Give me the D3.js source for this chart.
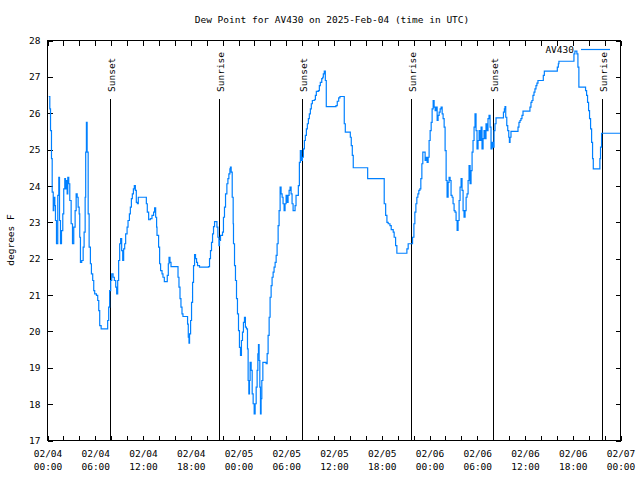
<!DOCTYPE html>
<html><head><meta charset="utf-8">
<script src="https://cdn.jsdelivr.net/npm/d3@7"></script>
<style>
html,body{margin:0;padding:0;background:#fff;}
text{font-family:"DejaVu Sans Mono","Liberation Mono",monospace;font-size:9.5px;fill:#000;}
</style></head><body>
<svg id="c" width="640" height="480"></svg>
<script>
// ---- data (hour offset from 2025-02-04 00:00 UTC, dew point °F) ----
const feb04 = [[0.16,26.46],[0.29,26.12],[0.38,25.52],[0.50,24.75],[0.59,23.83],[0.72,23.32],[0.79,23.69],[0.92,23.46],[1.00,23.05],[1.13,22.41],[1.29,23.74],[1.42,24.24],[1.51,23.05],[1.63,22.41],[1.76,22.77],[1.92,23.23],[2.04,23.92],[2.17,24.20],[2.26,23.92],[2.38,24.15],[2.47,23.78],[2.55,24.24],[2.67,24.06],[2.80,23.60],[2.97,22.96],[3.14,22.41],[3.30,22.87],[3.47,23.32],[3.60,23.78],[3.73,23.69],[3.85,23.42],[3.98,23.23],[4.05,22.59],[4.14,21.90],[4.30,21.95],[4.48,22.32],[4.60,22.73],[4.73,23.69],[4.80,24.93],[4.89,25.75],[4.98,24.93],[5.11,23.23],[5.23,22.32],[5.39,21.86],[5.52,21.58],[5.68,21.40],[5.81,21.12],[5.93,21.03],[6.15,20.99],[6.31,20.85],[6.44,20.57],[6.56,20.16],[6.74,20.07],[7.49,20.07],[7.56,20.30],[7.69,20.67],[7.81,21.12],[7.94,21.40],[8.07,21.58],[8.24,21.49],[8.40,21.40],[8.57,21.22],[8.69,21.03],[8.82,21.40],[8.94,21.95],[9.07,22.41],[9.19,22.55],[9.32,22.22],[9.45,21.95],[9.57,22.27],[9.70,22.41],[9.82,22.68],[10.00,22.87],[10.12,23.05],[10.29,23.23],[10.41,23.42],[10.54,23.65],[10.66,23.78],[10.79,23.92],[10.91,24.01],[11.04,23.88],[11.16,23.55],[11.29,23.51],[11.41,23.69],[12.29,23.69],[12.42,23.51],[12.54,23.28],[12.71,23.07],[12.92,23.10],[13.13,23.19],[13.33,23.28],[13.46,23.40],[13.59,23.14],[13.71,22.87],[13.76,22.64],[13.96,22.32],[14.09,21.86],[14.21,21.67],[14.39,21.58],[14.51,21.49],[14.68,21.37],[14.93,21.37],[15.05,21.54],[15.18,21.86],[15.27,22.04],[15.39,21.90],[15.52,21.78],[16.27,21.78],[16.40,21.49],[16.52,21.22],[16.65,20.90],[16.77,20.67],[16.90,20.48],[17.02,20.41],[17.52,20.41],[17.60,20.20],[17.69,19.84],[17.78,19.68],[17.85,19.93],[17.98,20.30],[18.10,20.80],[18.23,21.35],[18.35,21.81],[18.48,22.11],[18.60,22.00],[18.73,21.90],[18.85,21.81],[19.10,21.77],[20.23,21.78],[20.36,22.00],[20.48,22.22],[20.61,22.45],[20.74,22.68],[20.86,22.88],[20.99,23.02],[21.16,23.02],[21.29,22.87],[21.41,22.59],[21.54,22.36],[21.61,22.50],[21.74,22.64],[21.99,22.73],[22.11,23.14],[22.24,23.42],[22.37,23.78],[22.54,24.06],[22.67,24.20],[22.79,24.33],[22.92,24.47],[22.99,24.52],[23.08,24.38],[23.21,23.69],[23.33,22.96],[23.37,22.41],[23.50,21.81],[23.62,21.40],[23.75,20.90],[23.87,20.48]];
const feb05 = [[24.00,20.02],[24.12,19.56],[24.25,19.34],[24.37,19.75],[24.50,19.98],[24.62,20.25],[24.75,20.39],[24.87,20.12],[25.00,20.07],[25.13,19.52],[25.21,18.65],[25.30,18.28],[25.38,18.65],[25.46,19.15],[25.59,18.93],[25.72,18.28],[25.84,18.01],[25.97,17.73],[26.09,18.01],[26.22,18.47],[26.34,18.93],[26.43,19.38],[26.51,19.64],[26.59,19.20],[26.68,18.47],[26.76,17.73],[26.84,18.15],[26.93,18.65],[27.06,19.15],[27.47,19.11],[27.60,19.39],[27.72,19.89],[27.85,20.39],[27.97,20.94],[28.10,21.26],[28.22,21.49],[28.35,21.63],[28.47,21.77],[28.60,21.90],[28.73,22.09],[28.85,22.41],[28.98,22.91],[29.10,23.32],[29.23,23.97],[29.35,23.78],[29.48,23.69],[29.60,23.51],[29.73,23.32],[29.85,23.51],[29.98,23.74],[30.11,23.55],[30.23,23.74],[30.36,23.88],[30.48,23.97],[30.61,23.78],[30.73,23.51],[30.86,23.32],[30.98,23.32],[31.11,23.46],[31.23,23.74],[31.40,23.74],[31.52,24.01],[31.65,24.65],[31.77,24.97],[31.90,24.70],[32.03,24.79],[32.15,25.02],[32.28,25.25],[32.40,25.39],[32.53,25.57],[32.65,25.71],[32.78,25.85],[32.90,25.98],[33.03,26.12],[33.15,26.26],[33.28,26.35],[33.53,26.37],[33.66,26.49],[33.78,26.60],[34.03,26.62],[34.16,26.76],[34.28,26.85],[34.46,26.95],[34.58,26.99],[34.66,27.08],[34.78,27.16],[34.91,26.90],[35.03,26.18],[36.13,26.18],[36.25,26.21],[36.41,26.33],[36.59,26.42],[36.75,26.46],[37.17,26.46],[37.29,25.71],[37.42,25.48],[37.92,25.48],[38.05,25.34],[38.17,25.11],[38.30,24.84],[38.42,24.50],[40.10,24.50],[40.23,24.20],[42.19,24.20],[42.31,23.51],[42.49,23.19],[42.65,23.00],[42.81,22.96],[43.03,22.91],[43.19,22.80],[43.44,22.73],[43.56,22.59],[43.74,22.36],[43.90,22.15],[45.03,22.15],[45.16,22.27],[45.32,22.41],[45.75,22.41],[45.87,22.59],[46.04,22.96],[46.16,23.28],[46.29,23.51],[46.41,23.69],[46.54,23.78],[46.66,23.88],[46.79,23.92],[46.91,24.20],[47.04,24.61],[47.16,24.93],[47.33,24.93],[47.45,24.70],[47.58,24.79],[47.70,24.65],[47.83,24.79],[47.95,25.25]];
const feb06 = [[48.08,25.52],[48.21,25.75],[48.33,26.12],[48.46,26.35],[48.58,26.17],[48.71,26.07],[48.83,26.17],[48.96,25.80],[49.08,25.94],[49.21,26.03],[49.34,26.12],[49.46,26.17],[49.59,25.98],[49.71,25.85],[49.84,25.62],[49.96,24.97],[50.09,24.15],[50.21,23.69],[50.34,24.10],[50.46,24.24],[50.59,24.15],[50.71,23.74],[50.84,23.69],[50.96,23.51],[51.09,23.32],[51.21,23.28],[51.34,23.05],[51.47,22.78],[51.59,23.05],[51.72,23.60],[51.84,23.97],[51.97,24.20],[52.09,23.88],[52.22,23.32],[52.34,23.14],[52.47,23.32],[52.60,23.69],[52.72,23.78],[52.85,24.15],[52.97,24.56],[53.10,24.06],[53.22,24.42],[53.35,24.93],[53.47,25.25],[53.60,25.62],[53.72,25.98],[53.85,25.52],[53.97,25.02],[54.10,25.25],[54.23,25.52],[54.35,25.25],[54.48,25.62],[54.60,25.02],[54.73,25.30],[54.85,25.52],[54.98,25.30],[55.10,25.71],[55.23,25.52],[55.35,25.85],[55.48,25.94],[55.61,25.62],[55.73,25.02],[55.86,25.20],[55.98,25.07],[56.11,25.52],[56.23,25.71],[56.36,25.87],[57.16,25.87],[57.29,26.03],[57.41,26.12],[57.49,26.18],[57.58,25.89],[57.71,25.66],[57.83,25.52],[57.96,25.34],[58.04,25.20],[58.12,25.34],[58.24,25.50],[58.99,25.50],[59.12,25.62],[59.24,25.75],[59.37,25.80],[59.49,25.85],[59.62,25.94],[59.75,26.06],[60.50,26.06],[60.62,26.17],[60.75,26.30],[60.87,26.35],[61.00,26.49],[61.13,26.58],[61.25,26.67],[61.38,26.76],[61.50,26.83],[61.63,26.90],[62.18,26.90],[62.30,27.04],[62.43,27.16],[63.94,27.16],[64.06,27.27],[64.19,27.36],[64.26,27.43],[66.02,27.43],[66.15,27.63],[66.27,27.71],[66.45,27.71],[66.52,27.63],[66.65,27.27],[66.77,26.72],[67.49,26.72],[67.61,26.62],[67.74,26.49],[67.86,26.30],[67.99,26.07],[68.11,25.85],[68.24,25.57],[68.37,25.20],[68.49,24.75],[68.58,24.47],[69.28,24.47],[69.41,24.75],[69.49,25.07],[69.62,25.45],[72.00,25.45]];
const sunEvents = [["Sunset",7.95],["Sunrise",21.62],["Sunset",32.03],["Sunrise",45.72],["Sunset",56.0],["Sunrise",69.70]];
const yTicks = [17,18,19,20,21,22,23,24,25,26,27,28];
const seriesName = "AV430";
const titleText = "Dew Point for AV430 on 2025-Feb-04 (time in UTC)";
const yLabel = "degrees F";

// ---- chart ----
const t0 = Date.UTC(2025,1,4);
const toDate = h => new Date(t0 + h*3600e3);
const data = feb04.concat(feb05, feb06).map(d => ({t: toDate(d[0]), v: d[1]}));

const L=47.5, R=620.5, T=40.5, B=440.5;
const x = d3.scaleUtc().domain([toDate(0), toDate(72)]).range([L, R]);
const y = d3.scaleLinear().domain([17, 28]).range([B, T]);
const svg = d3.select("#c");
const blue = "#0080ff";

// title
svg.append("text").attr("x", 332).attr("y", 23).attr("text-anchor","middle").text(titleText);
// y label
svg.append("text").attr("transform","translate(14,240) rotate(-90)").attr("text-anchor","middle").text(yLabel);

const minor = d3.utcHour.every(2).range(toDate(0), toDate(72.01));
const major = d3.utcHour.every(6).range(toDate(0), toDate(72.01));

function clean(g){ g.select(".domain").remove(); g.selectAll("line").attr("stroke","#000").attr("shape-rendering","crispEdges"); }

svg.append("g").attr("transform",`translate(0,${B})`)
  .call(d3.axisBottom(x).tickValues(minor).tickSize(-5).tickFormat(""))
  .call(clean);
svg.append("g").attr("transform",`translate(0,${T})`)
  .call(d3.axisTop(x).tickValues(minor).tickSize(-5).tickFormat(""))
  .call(clean);
const fmtD = d3.utcFormat("%m/%d"), fmtT = d3.utcFormat("%H:%M");
const xl = svg.append("g").attr("transform",`translate(0,${B})`)
  .call(d3.axisBottom(x).tickValues(major).tickSize(0).tickPadding(0).tickFormat(""))
  .call(g => g.select(".domain").remove());
xl.selectAll(".tick text").each(function(d){
  const s = d3.select(this).attr("y", null).attr("dy", null).attr("font-size", null).attr("font-family", null);
  s.append("tspan").attr("x",0).attr("y",16.5).text(fmtD(d));
  s.append("tspan").attr("x",0).attr("y",29.5).text(fmtT(d));
});
xl.selectAll("text").attr("fill", "#000");

svg.append("g").attr("transform",`translate(${L},0)`)
  .call(d3.axisLeft(y).tickValues(yTicks).tickSize(-5).tickPadding(7).tickFormat(d3.format("d")))
  .call(clean)
  .call(g => g.selectAll("text").attr("font-size", null).attr("font-family", null).attr("fill","#000"));
svg.append("g").attr("transform",`translate(${R},0)`)
  .call(d3.axisRight(y).tickValues(yTicks).tickSize(-5).tickFormat(""))
  .call(clean);

// sunrise/sunset markers
const sg = svg.append("g");
sunEvents.forEach(([lab, h]) => {
  const xp = Math.floor(x(toDate(h))) + 0.5;
  sg.append("line").attr("x1", xp).attr("x2", xp).attr("y1", 99).attr("y2", B)
    .attr("stroke","#000").attr("shape-rendering","crispEdges");
  sg.append("text").attr("transform", `translate(${xp+4},92) rotate(-90)`).attr("text-anchor","start").text(lab);
});

// series
const line = d3.line().x(d => x(d.t)).y(d => y(d.v)).curve(d3.curveStepAfter);
svg.append("path").datum(data).attr("d", line).attr("fill","none").attr("stroke", blue).attr("stroke-width", 1.2);

// legend
svg.append("text").attr("x", 574).attr("y", 53).attr("text-anchor","end").text(seriesName);
svg.append("line").attr("x1", 581).attr("x2", 610).attr("y1", 49.5).attr("y2", 49.5).attr("stroke", blue).attr("stroke-width", 1.2);

// border
svg.append("rect").attr("x", L).attr("y", T).attr("width", R-L).attr("height", B-T)
  .attr("fill","none").attr("stroke","#000").attr("shape-rendering","crispEdges");
</script>
</body></html>
